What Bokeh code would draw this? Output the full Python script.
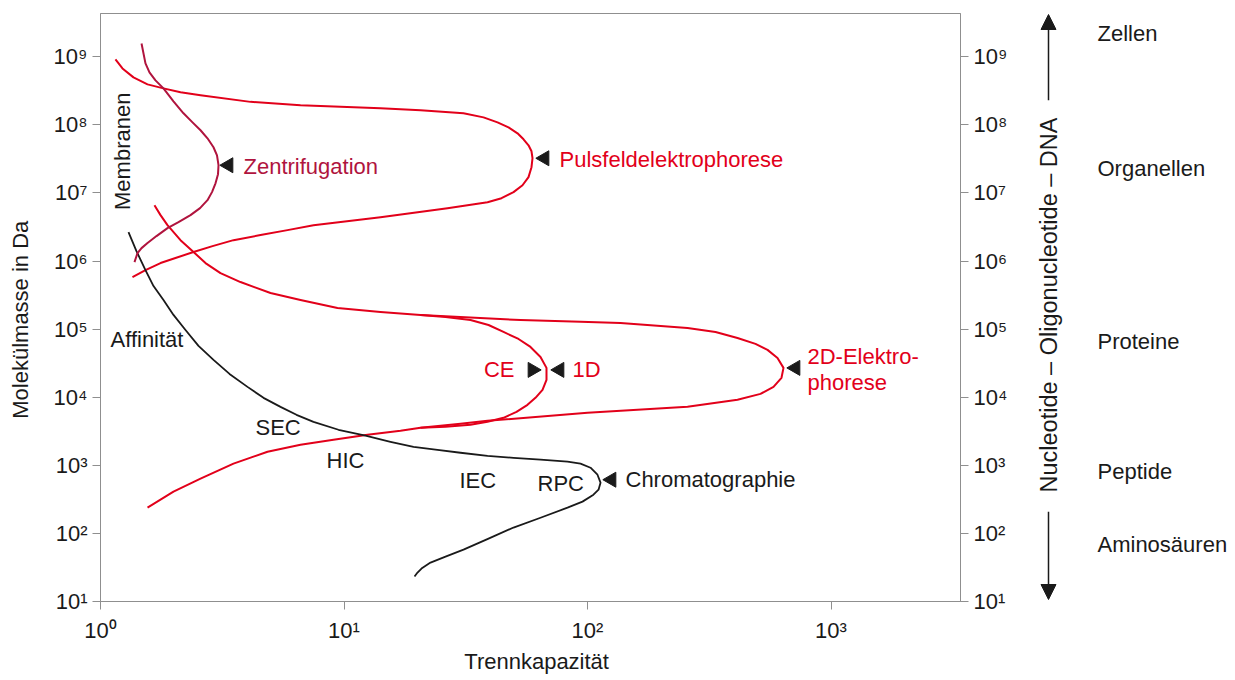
import numpy as np
from bokeh.plotting import figure
from bokeh.layouts import row
from bokeh.models import (Range1d, LogAxis, FixedTicker, CustomJSTickFormatter,
                          Label, Arrow, NormalHead)
from bokeh.embed import file_html
from bokeh.resources import INLINE

# ---------------- data (Trennkapazität vs. Molekülmasse in Da) ----------------
zentri_x = [1.474, 1.530, 1.589, 1.682, 1.814, 1.994, 2.192, 2.387, 2.575, 2.750, 2.911, 3.009, 3.052,
            3.038, 2.967, 2.870, 2.750, 2.563, 2.342, 2.091, 1.884, 1.698, 1.560, 1.474, 1.419, 1.379]
zentri_y = [1.57e9, 8.0e8, 5.91e8, 4.51e8, 3.44e8, 2.22e8, 1.48e8, 1.09e8, 8.34e7, 6.36e7, 4.70e7,
            3.58e7, 2.56e7, 1.89e7, 1.39e7, 1.03e7, 7.84e6, 5.99e6, 4.73e6, 3.73e6, 3.05e6, 2.33e6,
            1.84e6, 1.55e6, 1.31e6, 9.67e5]

puls_x = [1.152, 1.231, 1.366, 1.560, 1.814, 2.131, 2.575, 4.131, 6.628, 14.12, 20.62, 30.96, 37.41,
          42.71, 47.38, 51.59, 54.61, 57.25, 58.89, 59.45, 58.89, 57.25, 54.09, 49.68, 44.35, 38.85,
          26.61, 14.12, 7.494, 5.861, 4.542, 3.517, 2.884, 2.410, 2.032, 1.764, 1.530, 1.353]
puls_y = [9.16e8, 6.76e8, 4.99e8, 3.94e8, 3.44e8, 3.01e8, 2.72e8, 2.18e8, 1.94e8, 1.75e8, 1.64e8,
          1.48e8, 1.29e8, 1.09e8, 9.22e7, 7.53e7, 6.15e7, 5.02e7, 4.10e7, 3.24e7, 2.39e7, 1.71e7,
          1.30e7, 1.03e7, 8.39e6, 7.33e6, 5.99e6, 4.42e6, 3.37e6, 2.85e6, 2.41e6, 2.03e6, 1.66e6,
          1.36e6, 1.11e6, 9.35e5, 7.38e5, 5.83e5]

elph2d_x = [1.666, 1.764, 1.884, 2.131, 2.410, 2.699, 3.110, 3.757, 4.991, 6.628, 9.404, 14.12, 20.62,
            53.07, 93.6, 136.6, 257.5, 335.6, 413.0, 489.7, 548.6, 603.0, 638.1, 626.2, 580.6, 513.4,
            413.0, 257.5, 100.0, 38.85, 30.09, 20.62, 17.06, 12.49, 9.054, 6.628, 4.852, 3.517, 2.575,
            1.994, 1.560]
elph2d_y = [6.63e6, 4.73e6, 3.37e6, 2.03e6, 1.36e6, 9.35e5, 6.67e5, 4.92e5, 3.40e5, 2.68e5, 2.05e5,
            1.79e5, 1.62e5, 1.36e5, 1.28e5, 1.23e5, 1.04e5, 9.10e4, 7.43e4, 6.07e4, 4.96e4, 3.78e4,
            2.70e4, 1.93e4, 1.42e4, 1.12e4, 9.16e3, 7.23e3, 5.91e3, 4.51e3, 4.07e3, 3.56e3, 3.22e3,
            2.81e3, 2.37e3, 2.01e3, 1.58e3, 1.06e3, 636, 410, 239]

elph1d_x = [20.62, 26.12, 33.07, 39.22, 45.19, 52.08, 58.32, 64.12, 67.86, 67.86, 65.35, 61.14, 56.70,
            51.10, 45.19, 38.85, 33.07, 26.12, 20.62]
elph1d_y = [1.62e5, 1.51e5, 1.36e5, 1.15e5, 9.10e4, 7.18e4, 5.48e4, 3.91e4, 2.70e4, 1.80e4, 1.28e4,
            9.80e3, 7.74e3, 6.11e3, 4.99e3, 4.36e3, 3.94e3, 3.68e3, 3.56e3]

chrom_x = [1.303, 1.405, 1.530, 1.651, 1.814, 1.994, 2.234, 2.526, 2.911, 3.387, 4.015, 4.671, 5.486,
           6.380, 7.494, 9.493, 12.25, 15.52, 19.30, 24.21, 30.09, 38.85, 49.68, 64.12, 82.78, 93.6,
           102.9, 109.9, 113.1, 111.0, 105.8, 95.4, 82.78, 64.12, 49.68, 39.22, 30.96, 26.12, 22.66,
           20.81, 20.04, 19.48]
chrom_y = [2.66e6, 1.40e6, 7.38e5, 4.30e5, 2.68e5, 1.62e5, 9.74e4, 5.67e4, 3.54e4, 2.20e4, 1.42e4,
           9.80e3, 7.23e3, 5.52e3, 4.36e3, 3.33e3, 2.72e3, 2.22e3, 1.87e3, 1.69e3, 1.53e3, 1.38e3,
           1.29e3, 1.21e3, 1.13e3, 1.06e3, 922, 728, 556, 439, 371, 293, 239, 170, 122, 83.9, 57.9,
           45.7, 37.3, 30.5, 26.6, 23.3]

x_ticks = [1, 10, 100, 1000]
y_ticks = [1e1, 1e2, 1e3, 1e4, 1e5, 1e6, 1e7, 1e8, 1e9]

categories = ["Zellen", "Organellen", "Proteine", "Peptide", "Aminosäuren"]
category_mass = [2.2e9, 2.3e7, 6.7e4, 805, 68.5]

# ---------------- styling / layout ----------------
FONT = "Liberation Sans"
FS = "22px"
RED = "#e2001a"
DARKRED = "#b0143e"
BLACK = "#1a1a1a"
GRAY = "#8f8f8f"
NB = "\u00a0"

W_TOTAL, H = 1232, 676
W_MAIN = 1025
FRAME_L, FRAME_R, FRAME_T, FRAME_B = 100, 960, 13, 602
X_MAX = 10 ** ((FRAME_R - FRAME_L) / 243.5)
Y_MAX = 10 ** (1 + (FRAME_B - FRAME_T) / 68.2)


def X(px):
    return 10 ** ((px - FRAME_L) / 243.5)


def Y(py):
    return 10 ** (1 + (FRAME_B - py) / 68.2)


p = figure(width=W_MAIN, height=H, x_axis_type="log", y_axis_type="log",
           x_range=Range1d(1, X_MAX), y_range=Range1d(10, Y_MAX),
           output_backend="svg", toolbar_location=None,
           min_border_left=FRAME_L, min_border_right=W_MAIN - FRAME_R,
           min_border_top=FRAME_T, min_border_bottom=H - FRAME_B)
p.grid.visible = False
p.outline_line_color = GRAY
p.outline_line_width = 1

sup_code = """
const s = ["\u2070","\u00b9","\u00b2","\u00b3","\u2074","\u2075","\u2076","\u2077","\u2078","\u2079"];
const e = Math.round(Math.log10(tick));
return "10" + String(e).split("").map(c => s[parseInt(c)]).join("");
"""


def style_axis(ax, ticks):
    ax.ticker = FixedTicker(ticks=ticks)
    ax.formatter = CustomJSTickFormatter(code=sup_code)
    ax.axis_line_color = GRAY
    ax.major_tick_line_color = GRAY
    ax.minor_tick_line_color = None
    ax.major_tick_out = 8
    ax.major_tick_in = 0
    ax.major_label_text_font = FONT
    ax.major_label_text_font_size = FS
    ax.major_label_text_color = BLACK
    ax.axis_label_text_font = FONT
    ax.axis_label_text_font_size = FS
    ax.axis_label_text_font_style = "normal"
    ax.axis_label_text_color = BLACK


style_axis(p.xaxis[0], x_ticks)
style_axis(p.yaxis[0], y_ticks)
p.xaxis[0].axis_label = NB * 2 + "Trennkapazität"
p.xaxis[0].major_label_standoff = 8
p.xaxis[0].axis_label_standoff = 3
p.yaxis[0].axis_label = "Molekülmasse in Da" + NB * 4
p.yaxis[0].major_label_standoff = 5
p.yaxis[0].axis_label_standoff = 18

right_axis = LogAxis()
style_axis(right_axis, y_ticks)
right_axis.major_label_standoff = 5
p.add_layout(right_axis, "right")

# ---------------- curves ----------------
lw = 2
p.line(puls_x, puls_y, line_color=RED, line_width=lw, line_join="round")
p.line(elph2d_x, elph2d_y, line_color=RED, line_width=lw, line_join="round")
p.line(elph1d_x, elph1d_y, line_color=RED, line_width=lw, line_join="round")
p.line(chrom_x, chrom_y, line_color=BLACK, line_width=1.8, line_join="round")
p.line(zentri_x, zentri_y, line_color=DARKRED, line_width=lw, line_join="round")

# ---------------- pointer triangles ----------------
left_pts = [(228, 165), (544, 158), (559, 370), (795, 368), (611, 480)]
p.scatter([X(a) for a, b in left_pts], [Y(b) for a, b in left_pts], marker="triangle",
          angle=np.pi / 2, size=15, color=BLACK)
p.scatter([X(532)], [Y(370)], marker="triangle", angle=-np.pi / 2, size=15, color=BLACK)


def lab(fig, text, x, y, color=BLACK, align="left", angle=0.0, size=FS):
    fig.add_layout(Label(x=x, y=y, text=text, text_font=FONT, text_font_size=size,
                         text_color=color, text_align=align, text_baseline="middle", angle=angle))


lab(p, "Zentrifugation", X(243), Y(166), DARKRED)
lab(p, "Pulsfeldelektrophorese", X(559), Y(159), RED)
lab(p, "CE", X(514), Y(370), RED, align="right")
lab(p, "1D", X(572), Y(370), RED)
lab(p, "2D-Elektro-", X(807), Y(357), RED)
lab(p, "phorese", X(807), Y(383), RED)
lab(p, "Chromatographie", X(625), Y(480))
lab(p, "Affinität", X(110), Y(340))
lab(p, "SEC", X(255), Y(428))
lab(p, "HIC", X(326), Y(461))
lab(p, "IEC", X(459), Y(481))
lab(p, "RPC", X(537), Y(484))
lab(p, "Membranen", X(122), Y(151), align="center", angle=np.pi / 2)

# ---------------- right-hand panel (same y scale) ----------------
q = figure(width=W_TOTAL - W_MAIN, height=H, y_axis_type="log",
           x_range=Range1d(W_MAIN, W_TOTAL), y_range=p.y_range,
           x_axis_location=None, y_axis_location=None,
           output_backend="svg", toolbar_location=None,
           min_border_left=0, min_border_right=0,
           min_border_top=FRAME_T, min_border_bottom=H - FRAME_B)
q.grid.visible = False
q.outline_line_color = None

for name, mass in zip(categories, category_mass):
    lab(q, name, 1097, mass)

lab(q, "Nucleotide \u2013 Oligonucleotide \u2013 DNA", 1048, Y(305), align="center",
    angle=np.pi / 2, size="23.5px")
q.add_layout(Arrow(end=NormalHead(size=15, fill_color=BLACK, line_color=BLACK),
                   x_start=1048, y_start=Y(100), x_end=1048, y_end=Y(14),
                   line_color=BLACK, line_width=1.5))
q.add_layout(Arrow(end=NormalHead(size=15, fill_color=BLACK, line_color=BLACK),
                   x_start=1048, y_start=Y(512), x_end=1048, y_end=Y(600),
                   line_color=BLACK, line_width=1.5))

layout = row(p, q, spacing=0)
open("out.html", "w").write(file_html(layout, INLINE))
